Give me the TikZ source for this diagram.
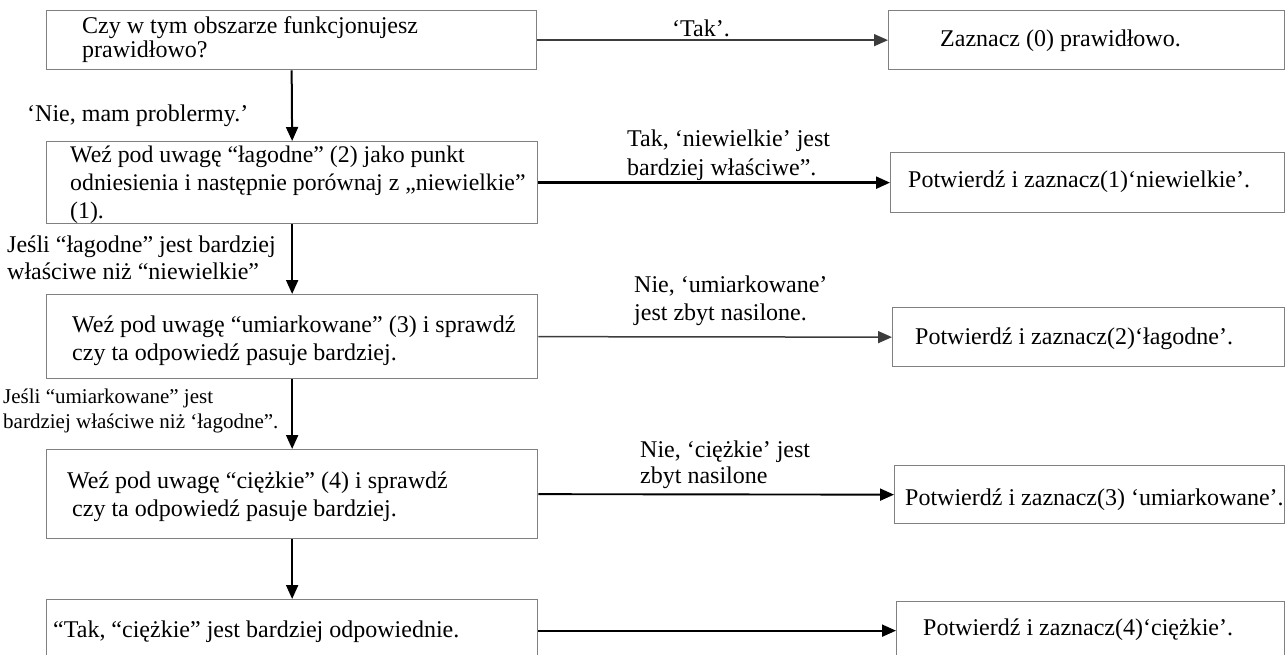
\documentclass[tikz,border=0pt]{standalone}
\usepackage{fontspec}
\setmainfont{Liberation Serif}
\usetikzlibrary{positioning,arrows.meta}
\definecolor{edge}{RGB}{128,128,128}
\definecolor{dark}{RGB}{60,60,60}

\begin{document}
\begin{tikzpicture}[x=1pt,y=-1pt,>={Triangle[length=14pt,width=12pt]},
  qbox/.style={draw=edge,line width=1.3pt,anchor=north west,inner sep=0pt},
  txt/.style={anchor=west,align=left,inner sep=0pt,font=\fontsize{24}{28}\selectfont},
  small/.style={anchor=west,align=left,inner sep=0pt,font=\fontsize{21}{25}\selectfont},
  vflow/.style={->,line width=2pt},
  hflow/.style={->,line width=1.9pt}]
  \useasboundingbox (0,0) rectangle (1285,655);
  % left column: the questions
  \node[qbox,minimum width=490pt,minimum height=59pt] (q1) at (46,10) {};
  \node[qbox,minimum width=491pt,minimum height=82pt] (q2) at (46,141) {};
  \node[qbox,minimum width=491pt,minimum height=84pt] (q3) at (46,294) {};
  \node[qbox,minimum width=491pt,minimum height=89pt] (q4) at (46,449) {};
  \node[qbox,minimum width=491pt,minimum height=62pt] (q5) at (46,599) {};
  \node[txt,font=\fontsize{24}{24}\selectfont] (q1t) at (82,40) {Czy w tym obszarze funkcjonujesz\\prawidłowo?};
  \node[txt,font=\fontsize{23.8}{28}\selectfont] (q2t) at (70,185) {Weź pod uwagę “łagodne” (2) jako punkt\\odniesienia i następnie porównaj z „niewielkie”\\(1).};
  \node[txt] (q3t) at (72,341) {Weź pod uwagę “umiarkowane” (3) i sprawdź\\czy ta odpowiedź pasuje bardziej.};
  \node[txt] (q4t) at (67,497) {Weź pod uwagę “ciężkie” (4) i sprawdź\\\hspace*{5pt}czy ta odpowiedź pasuje bardziej.};
  \node[txt] (q5t) at (53,632) {“Tak, “ciężkie” jest bardziej odpowiednie.};
  % right column: the answers
  \node[qbox,minimum width=396pt,minimum height=59pt] (r1) at (888,10) {};
  \node[qbox,minimum width=394pt,minimum height=60pt] (r2) at (890,152) {};
  \node[qbox,minimum width=392pt,minimum height=59pt] (r3) at (892,307) {};
  \node[qbox,minimum width=390pt,minimum height=58pt] (r4) at (894,465) {};
  \node[qbox,minimum width=388pt,minimum height=58pt] (r5) at (896,601) {};
  \node[txt] (r1t) at (940,41) {Zaznacz (0) prawidłowo.};
  \node[txt] (r2t) at (908,182) {Potwierdź i zaznacz(1)‘niewielkie’.};
  \node[txt] (r3t) at (915,339) {Potwierdź i zaznacz(2)‘łagodne’.};
  \node[txt] (r4t) at (905,500) {Potwierdź i zaznacz(3) ‘umiarkowane’.};
  \node[txt] (r5t) at (923,630) {Potwierdź i zaznacz(4)‘ciężkie’.};
  % labels of the downward steps
  \node[txt] (no1) at (27,116) {‘Nie, mam problermy.’};
  \node[txt,font=\fontsize{24}{27}\selectfont] (if1) at (7,258) {Jeśli “łagodne” jest bardziej\\właściwe niż “niewielkie”};
  \node[small] (if2) at (3,411) {Jeśli “umiarkowane” jest\\bardziej właściwe niż ‘łagodne”.};
  % labels of the answers
  \node[txt] (yes1) at (672,28) {‘Tak’.};
  \node[txt,font=\fontsize{24}{29}\selectfont] (yes2) at (627,155) {Tak, ‘niewielkie’ jest\\bardziej właściwe”.};
  \node[txt] (no3) at (634,301) {Nie, ‘umiarkowane’\\jest zbyt nasilone.};
  \node[txt,font=\fontsize{24}{26}\selectfont] (no4) at (640,465) {Nie, ‘ciężkie’ jest\\zbyt nasilone};
  \draw[vflow] (q1.south)--(q2.north);
  \draw[vflow] (q2.south)--(q3.north);
  \draw[vflow] (q3.south)--(q4.north);
  \draw[vflow] (q4.south)--(q5.north);
  \draw[hflow,dark,line width=1.5pt] (q1.east)--(r1.west);
  \draw[hflow,line width=2.3pt] (q2.east)--(r2.west);
  \draw[hflow,dark,line width=1.5pt] (q3.east)--(r3.west);
  \draw[hflow] (q4.east)--(r4.west);
  \draw[hflow] (q5.east)--(r5.west);
\end{tikzpicture}
\end{document}
